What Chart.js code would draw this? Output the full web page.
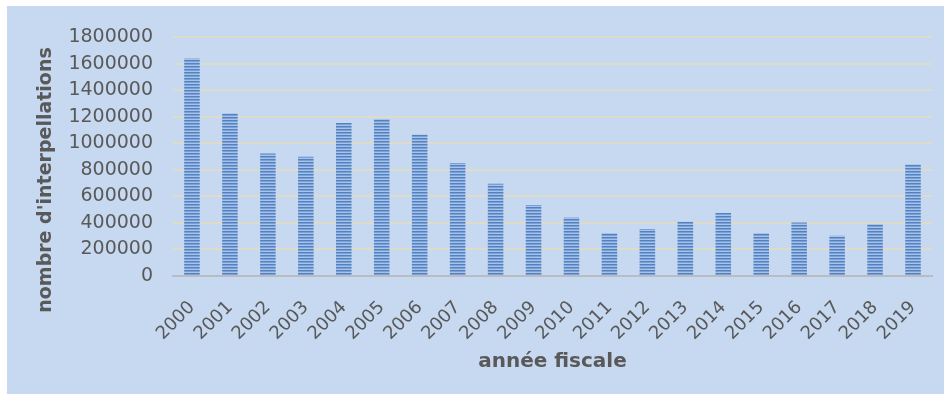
<!DOCTYPE html>
<html>
<head>
<meta charset="utf-8">
<script src="https://cdn.jsdelivr.net/npm/chart.js@4/dist/chart.umd.min.js"></script>
<style>
    body { margin: 0; background: #ffffff; }
    #wrap { position: absolute; left: 7px; top: 6px; width: 937px; height: 388px; background: #c6d9f1; }
</style>
</head>
<body>
<div id="wrap"><canvas id="chart"></canvas></div>
<script>
// Data
const years = ['2000', '2001', '2002', '2003', '2004', '2005', '2006', '2007', '2008', '2009',
               '2010', '2011', '2012', '2013', '2014', '2015', '2016', '2017', '2018', '2019'];
const arrests = [1640000, 1228000, 925000, 900000, 1155000, 1185000, 1068000, 853000, 695000, 535000,
                 442000, 325000, 355000, 410000, 475000, 325000, 403000, 303000, 393000, 843000];
const yTicks = [0, 200000, 400000, 600000, 800000, 1000000, 1200000, 1400000, 1600000, 1800000];
const xTitle = 'année fiscale';
const yTitle = "nombre d'interpellations";

const textColor = '#595959';
const fontFamily = '"DejaVu Sans", Verdana, sans-serif';

// Striped fill for the bars
function stripePattern() {
    const c = document.createElement('canvas');
    c.width = 1;
    c.height = 3;
    const g = c.getContext('2d');
    g.fillStyle = '#5282c2';
    g.fillRect(0, 0, 1, 1);
    g.fillStyle = '#7aa0d5';
    g.fillRect(0, 1, 1, 1);
    g.fillStyle = '#a9c3e8';
    g.fillRect(0, 2, 1, 1);
    return g.createPattern(c, 'repeat');
}

// Rotated y title drawn at a fixed spot (Excel centres it a bit lower than the plot)
const yTitlePlugin = {
    id: 'yTitle',
    afterDraw(chart) {
        const ctx = chart.ctx;
        ctx.save();
        ctx.translate(39, 174);
        ctx.rotate(-Math.PI / 2);
        ctx.font = 'bold 19px ' + fontFamily;
        ctx.fillStyle = textColor;
        ctx.textAlign = 'center';
        ctx.textBaseline = 'middle';
        ctx.fillText(yTitle, 0, 0);
        ctx.restore();
    }
};

const ctx = document.getElementById('chart').getContext('2d');
new Chart(ctx, {
    type: 'bar',
    data: {
        labels: years,
        datasets: [{
            data: arrests,
            backgroundColor: stripePattern(),
            borderWidth: 0,
            barPercentage: 0.41,
            categoryPercentage: 1
        }]
    },
    options: {
        responsive: true,
        maintainAspectRatio: false,
        animation: false,
        layout: { padding: { top: 30, right: 12, left: 0, bottom: 0 } },
        plugins: {
            legend: { display: false },
            tooltip: { enabled: false }
        },
        scales: {
            x: {
                afterFit: scale => {
                    scale.height = 118;
                    scale.paddingLeft = 0;
                    scale.paddingRight = 0;
                },
                grid: { display: false, drawTicks: false },
                border: { display: true, color: '#b9bdc2', width: 2 },
                ticks: {
                    color: textColor,
                    font: { family: fontFamily, size: 18 },
                    minRotation: 45,
                    maxRotation: 45,
                    padding: 21
                },
                title: {
                    display: true,
                    text: xTitle,
                    color: textColor,
                    font: { family: fontFamily, size: 20, weight: 'bold' },
                    padding: { top: 0, bottom: 20 }
                }
            },
            y: {
                min: 0,
                max: 1800000,
                afterFit: scale => { scale.width = 166; },
                afterBuildTicks: scale => { scale.ticks = yTicks.map(v => ({ value: v })); },
                grid: { color: '#dedbc8', lineWidth: 2, drawTicks: false },
                border: { display: false },
                ticks: {
                    color: textColor,
                    font: { family: fontFamily, size: 19 },
                    padding: 20,
                    callback: v => String(v)
                }
            }
        }
    },
    plugins: [yTitlePlugin]
});
</script>
</body>
</html>
